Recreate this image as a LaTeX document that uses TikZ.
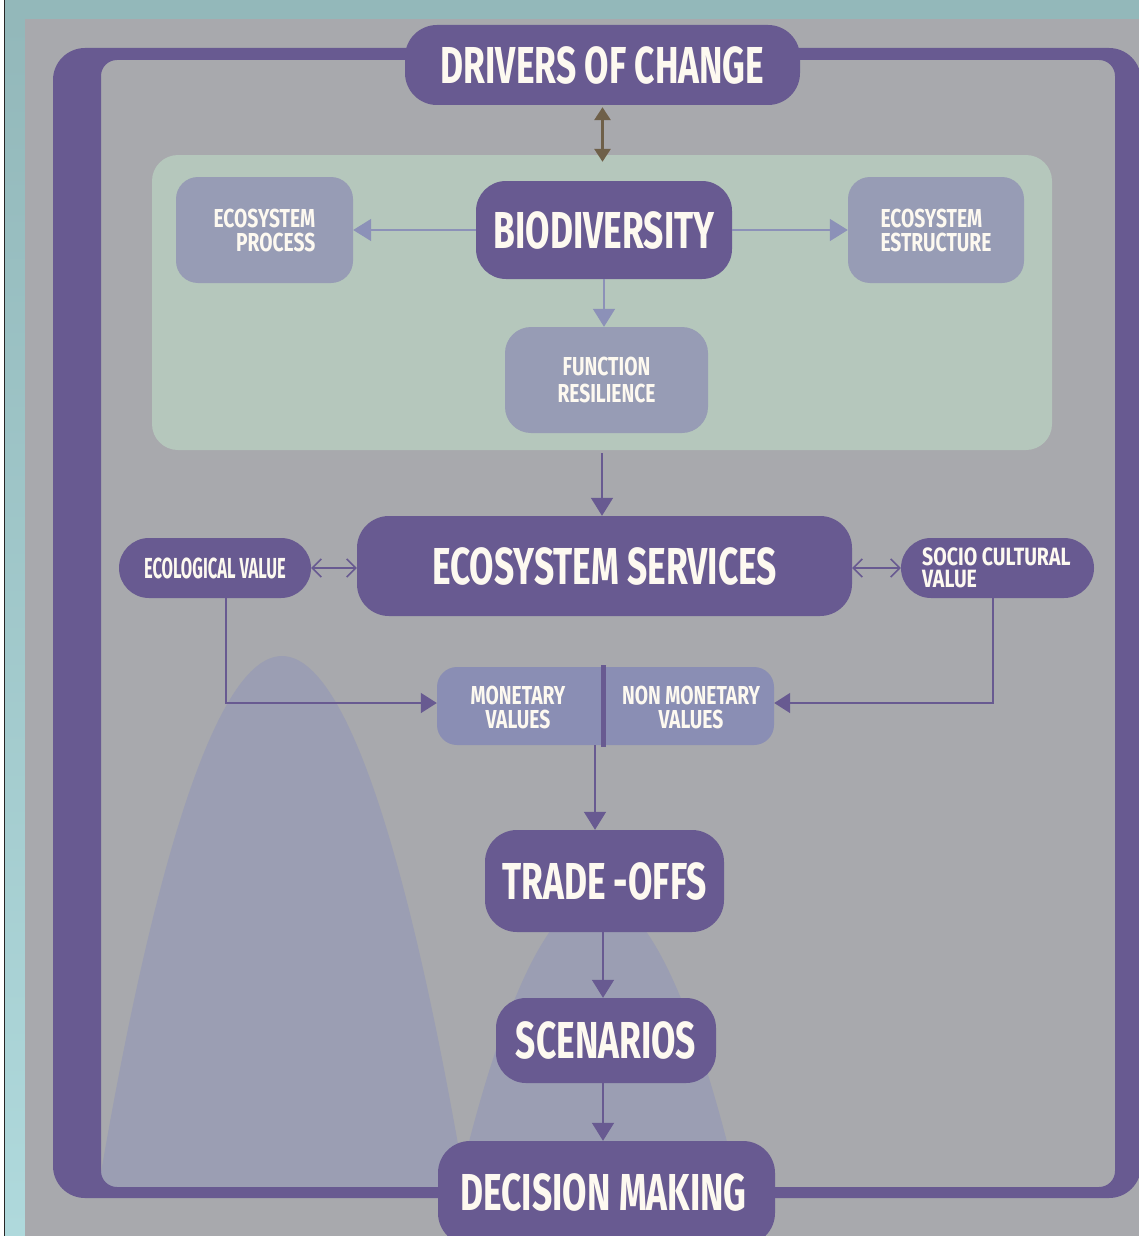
\documentclass[tikz,border=0pt]{standalone}
\usepackage{fontspec}
\newfontfamily\lblfont{Fira Sans}[FakeStretch=0.68]
\newfontfamily\lblmid{Fira Sans}[FakeStretch=0.74]
\newfontfamily\lblwide{Fira Sans}[FakeStretch=0.78]
\newfontfamily\lblnarrow{Fira Sans}[FakeStretch=0.57]
\usetikzlibrary{arrows.meta}

\definecolor{framepurple}{HTML}{685A91}
\definecolor{bggray}{HTML}{A8A9AD}
\definecolor{panelgreen}{HTML}{B5C7BC}
\definecolor{subblue}{HTML}{979CB5}
\definecolor{valblue}{HTML}{8A8EB4}
\definecolor{hillblue}{HTML}{9B9EB3}
\definecolor{thinarrow}{HTML}{8C91B8}
\definecolor{driverbrown}{HTML}{6F6049}
\definecolor{tealdark}{HTML}{93B8BA}
\definecolor{teallight}{HTML}{AFD9DC}
\definecolor{labelwhite}{HTML}{FDF9F0}

\tikzset{
  lbl/.style={text=labelwhite, align=center, inner sep=0pt},
  bigtext/.style={font={\lblfont\bfseries\fontsize{52}{56}\selectfont}},
  smalltext/.style={font={\lblmid\bfseries\fontsize{26}{24}\selectfont}},
  mainbox/.style={lbl, bigtext, fill=framepurple, rounded corners=32pt},
  subbox/.style={lbl, smalltext, fill=subblue, rounded corners=22pt},
  pillbox/.style={lbl, fill=framepurple, rounded corners=30pt, minimum height=60pt},
  flow/.style={framepurple, line width=1.6pt, -{Triangle[length=18pt,width=22pt]}},
  thinflow/.style={thinarrow, line width=1.6pt, -{Triangle[length=18pt,width=22pt]}},
  barbflow/.style={framepurple, line width=1.4pt,
    {Straight Barb[length=9pt,width=18pt,line width=1.6pt]}-{Straight Barb[length=9pt,width=18pt,line width=1.6pt]}},
  linkflow/.style={framepurple, line width=1.6pt, -{Triangle[length=16pt,width=20pt]}},
}

\begin{document}
\begin{tikzpicture}[x=1pt,y=-1pt]
\useasboundingbox (0,0) rectangle (1139,1236);
\clip (0,0) rectangle (1139,1236);

% page background, teal margins and edge line
\fill[white] (0,0) rectangle (1139,1236);
\fill[tealdark] (5,0) rectangle (1139,19);
\shade[top color=tealdark, bottom color=teallight] (5,19) rectangle (25,1236);
\fill[black!85] (3.8,0) rectangle (5.2,1236);
\fill[bggray] (25,19) rectangle (1139,1236);

% soft hills in the background
\begin{scope}
  \clip (101,60) rectangle (1115,1187);
  \fill[hillblue] (98,1190) parabola bend (282,656) (466,1190) -- cycle;
  \fill[hillblue] (457,1190) parabola bend (598,897) (739,1190) -- cycle;
\end{scope}

% thick surrounding frame
\fill[framepurple, even odd rule]
  [rounded corners=32pt] (53,48) rectangle (1141,1198)
  [rounded corners=16pt] (101,60) rectangle (1115,1187);

% biodiversity panel
\node[fill=panelgreen, rounded corners=26pt, minimum width=900pt, minimum height=295pt, inner sep=0pt]
  (panel) at (602,302.5) {};

% nodes
\node[mainbox, minimum width=395pt, minimum height=80pt] (drivers) at (602.5,65) {DRIVERS OF CHANGE};
\node[mainbox, minimum width=256pt, minimum height=98pt, rounded corners=30pt] (biodiv) at (604,230) {BIODIVERSITY};
\node[subbox, minimum width=177pt, minimum height=106pt, align=right] (eproc) at (264.5,230) {ECOSYSTEM\\PROCESS};
\node[subbox, minimum width=176pt, minimum height=106pt, align=left] (estr) at (936,230) {ECOSYSTEM\\ESTRUCTURE};
\node[subbox, minimum width=203pt, minimum height=106pt, rounded corners=26pt,
      font={\lblmid\bfseries\fontsize{26}{27}\selectfont}] (funcres) at (606.5,380) {FUNCTION\\RESILIENCE};
\node[mainbox, minimum width=495pt, minimum height=100pt] (ecoserv) at (604.5,566) {ECOSYSTEM SERVICES};
\node[pillbox, minimum width=192pt, font={\lblnarrow\bfseries\fontsize{29}{29}\selectfont}] (ecoval) at (215,568) {ECOLOGICAL VALUE};
\node[pillbox, minimum width=193pt] (socio) at (997.5,568) {};
\node[lbl, align=left, font={\lblwide\bfseries\fontsize{25}{22}\selectfont}, anchor=west] (sociotext) at (922,568) {SOCIO CULTURAL\\VALUE};
\node[fill=valblue, rounded corners=20pt, minimum width=337pt, minimum height=78pt, inner sep=0pt] (valbox) at (605.5,706) {};
\node[fill=framepurple, minimum width=5pt, minimum height=82pt, inner sep=0pt] (divider) at (603.5,706) {};
\node[lbl, smalltext] (monet) at (518,707) {MONETARY\\VALUES};
\node[lbl, smalltext] (nonmonet) at (691,707) {NON MONETARY\\VALUES};
\node[mainbox, minimum width=239pt, minimum height=102pt] (trade) at (604.5,881) {TRADE -OFFS};
\node[mainbox, minimum width=220pt, minimum height=85pt, rounded corners=30pt] (scen) at (606,1040.5) {SCENARIOS};
\node[mainbox, minimum width=337pt, minimum height=104pt] (decision) at (606.5,1193) {};
\node[lbl, bigtext] (decisiontext) at (603.5,1192) {DECISION MAKING};

% connectors
\draw[driverbrown, line width=3pt, {Triangle[length=13pt,width=16pt]}-{Triangle[length=13pt,width=16pt]}]
  ([yshift=-2pt]drivers.south) -- ([yshift=-7pt]panel.north -| drivers.south);
\draw[thinflow] (biodiv.west) -- (biodiv.west -| eproc.east);
\draw[thinflow] (biodiv.east) -- (biodiv.east -| estr.west);
\draw[thinflow] (biodiv.south) -- (biodiv.south |- funcres.north);
\draw[flow] ([yshift=-3pt]panel.south) -- (panel.south |- ecoserv.north);
\draw[barbflow] (ecoval.east) -- (ecoval.east -| ecoserv.west);
\draw[barbflow] (ecoserv.east |- socio.west) -- (socio.west);
\draw[linkflow] ([xshift=11pt]ecoval.south) |- ([yshift=3pt]valbox.west);
\draw[linkflow] ([xshift=-4.5pt]socio.south) |- ([yshift=3pt]valbox.east);
\draw[flow] ([xshift=-10.5pt]valbox.south) -- ([xshift=-10.5pt]valbox.south |- trade.north);
\draw[flow] ([xshift=-1.5pt]trade.south) -- ([xshift=-1.5pt]trade.south |- scen.north);
\draw[flow] ([xshift=-3pt]scen.south) -- ([xshift=-3pt]scen.south |- decision.north);
\end{tikzpicture}
\end{document}
